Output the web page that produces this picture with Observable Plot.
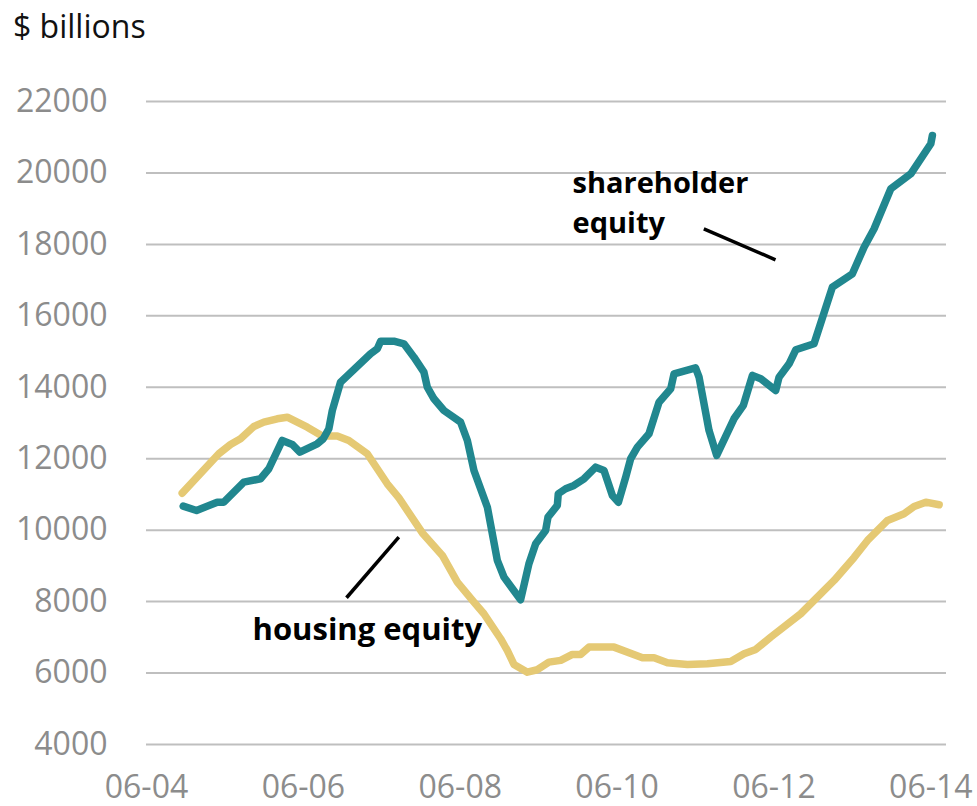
<!DOCTYPE html>
<html>
<head>
<meta charset="utf-8">
<script src="https://cdn.jsdelivr.net/npm/d3@7"></script>
<script src="https://cdn.jsdelivr.net/npm/@observablehq/plot@0.6"></script>
<style>
  html, body { margin: 0; padding: 0; background: #fff; }
  #wrap { width: 977px; position: relative; }
  #title { position: relative; height: 50px; font-family: "Open Sans", sans-serif; font-size: 32px; color: #111; }
  #title span { position: absolute; left: 13px; top: 4px; line-height: 1.362; white-space: nowrap; }
</style>
</head>
<body>
<div id="wrap">
  <div id="title"><span>$ billions</span></div>
  <div id="chart"></div>
</div>
<script>
// Shareholder equity ($ billions), x in decimal years
const shareholderYears = [2004.968,2005.138,2005.402,2005.486,2005.741,2005.954,2006.060,2006.231,2006.358,2006.455,2006.677,2006.754,2006.825,2006.869,2006.974,2007.357,2007.443,2007.485,2007.654,2007.782,2007.910,2008.037,2008.080,2008.165,2008.292,2008.505,2008.591,2008.675,2008.846,2008.973,2009.058,2009.270,2009.376,2009.462,2009.589,2009.619,2009.738,2009.750,2009.844,2009.950,2010.078,2010.227,2010.333,2010.440,2010.517,2010.610,2010.673,2010.759,2010.907,2011.035,2011.184,2011.226,2011.500,2011.545,2011.672,2011.770,2011.990,2012.110,2012.226,2012.332,2012.523,2012.565,2012.693,2012.778,2013.011,2013.245,2013.500,2013.649,2013.777,2013.990,2014.245,2014.500,2014.520];
const shareholderValues = [10672,10552,10784,10784,11344,11439,11719,12511,12399,12184,12419,12559,12839,13351,14143,14938,15078,15291,15291,15218,14843,14423,14003,13678,13351,13023,12511,11672,10644,9153,8685,8052,9060,9620,9992,10364,10692,11019,11159,11252,11439,11764,11672,10972,10784,11484,11999,12324,12699,13583,13958,14378,14546,14283,12791,12092,13118,13491,14331,14238,13911,14283,14658,15050,15218,16802,17177,17922,18437,19556,19976,20816,21048];

// Housing equity ($ billions)
const housingYears = [2004.955,2005.422,2005.571,2005.699,2005.869,2005.996,2006.167,2006.295,2006.550,2006.741,2006.932,2007.080,2007.315,2007.570,2007.718,2008.017,2008.272,2008.463,2008.675,2008.802,2009.015,2009.100,2009.185,2009.356,2009.483,2009.631,2009.781,2009.930,2010.036,2010.142,2010.461,2010.823,2010.971,2011.142,2011.397,2011.652,2011.949,2012.119,2012.268,2012.459,2012.842,2013.267,2013.522,2013.693,2013.948,2014.159,2014.287,2014.436,2014.606];
const housingValues = [11036,12139,12399,12559,12903,13023,13118,13163,12884,12637,12637,12511,12139,11299,10902,9922,9293,8545,7985,7660,6961,6633,6242,6026,6093,6306,6354,6522,6522,6726,6726,6429,6429,6289,6242,6262,6326,6541,6661,7006,7660,8593,9237,9712,10272,10460,10664,10784,10712];

// Axis ticks
const yTicks = [4000,6000,8000,10000,12000,14000,16000,18000,20000,22000];
const xTickYears = [2004.5,2006.5,2008.5,2010.5,2012.5,2014.5];
const xTickLabels = ["06-04","06-06","06-08","06-10","06-12","06-14"];

// Annotations (data coordinates)
const labelTexts = ["shareholder", "equity", "housing equity"];
const labelYears = [2009.932, 2009.932, 2005.852];
const labelValues = [19425, 18305, 6913];
const labelSizes = [29, 29, 31];
const leaderX1 = [2011.606, 2007.050];
const leaderY1 = [18437, 8108];
const leaderX2 = [2012.520, 2007.717];
const leaderY2 = [17569, 9805];

const shareholder = shareholderYears.map((x, i) => ({x, v: shareholderValues[i]}));
const housing = housingYears.map((x, i) => ({x, v: housingValues[i]}));
const labels = labelTexts.map((t, i) => ({t, x: labelYears[i], y: labelValues[i], s: labelSizes[i]}));
const leaders = leaderX1.map((x1, i) => ({x1, y1: leaderY1[i], x2: leaderX2[i], y2: leaderY2[i]}));

const teal = "#21878f";
const gold = "#e5c974";
const grey = "#8c8c8c";

const chart = Plot.plot({
  width: 977,
  height: 756,
  marginLeft: 146,
  marginRight: 31,
  marginTop: 51,
  marginBottom: 62,
  style: {fontFamily: "'Open Sans', sans-serif", fontSize: "32px", background: "#fff"},
  x: {type: "linear", domain: [2004.5, 2014.7]},
  y: {domain: [4000, 22000]},
  marks: [
    Plot.gridY(yTicks, {stroke: "#bfbfbf", strokeOpacity: 1, strokeWidth: 2}),
    Plot.axisY({ticks: yTicks, tickSize: 0, tickPadding: 39, fontSize: 32, color: grey, label: null, tickFormat: d => String(d)}),
    Plot.axisX({ticks: xTickYears, tickSize: 0, tickPadding: 31, fontSize: 32, color: grey, label: null,
      tickFormat: d => xTickLabels[xTickYears.indexOf(d)]}),
    Plot.line(housing, {x: "x", y: "v", stroke: gold, strokeWidth: 7.5, strokeLinejoin: "round", strokeLinecap: "round"}),
    Plot.line(shareholder, {x: "x", y: "v", stroke: teal, strokeWidth: 7.5, strokeLinejoin: "round", strokeLinecap: "round"}),
    Plot.link(leaders, {x1: "x1", y1: "y1", x2: "x2", y2: "y2", stroke: "#000", strokeWidth: 3.5}),
    Plot.text(labels.slice(0, 2), {x: "x", y: "y", text: "t", textAnchor: "start", lineAnchor: "bottom", fontSize: 29, fontWeight: "bold", fill: "#000"}),
    Plot.text(labels.slice(2), {x: "x", y: "y", text: "t", textAnchor: "start", lineAnchor: "bottom", fontSize: 31, fontWeight: "bold", fill: "#000"})
  ]
});
document.getElementById("chart").appendChild(chart);
</script>
</body>
</html>
